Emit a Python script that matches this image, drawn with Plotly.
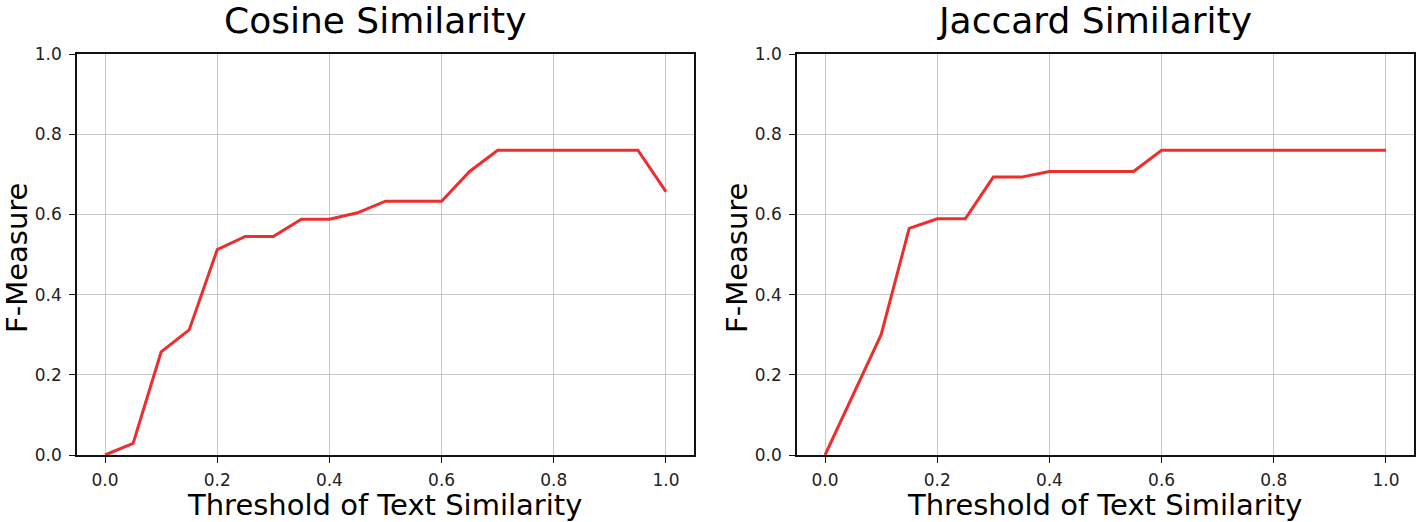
import plotly.graph_objects as go

thresholds = [0.0, 0.05, 0.10, 0.15, 0.20, 0.25, 0.30, 0.35, 0.40, 0.45, 0.50,
              0.55, 0.60, 0.65, 0.70, 0.75, 0.80, 0.85, 0.90, 0.95, 1.0]
cosine_f = [0.0, 0.029, 0.257, 0.312, 0.512, 0.545, 0.545, 0.588, 0.588, 0.604, 0.633,
            0.633, 0.633, 0.707, 0.760, 0.760, 0.760, 0.760, 0.760, 0.760, 0.657]
jaccard_f = [0.0, 0.148, 0.300, 0.565, 0.589, 0.589, 0.693, 0.693, 0.707, 0.707, 0.707,
             0.707, 0.760, 0.760, 0.760, 0.760, 0.760, 0.760, 0.760, 0.760, 0.760]
titles = ["Cosine Similarity", "Jaccard Similarity"]
x_label = "Threshold of Text Similarity"
y_label = "F-Measure"
x_ticks = [0.0, 0.2, 0.4, 0.6, 0.8, 1.0]
y_ticks = [0.0, 0.2, 0.4, 0.6, 0.8, 1.0]

FONT = "DejaVu Sans"
RED = "rgb(238,45,45)"

W, H = 1416, 522
ML, MR, MT, MB = 77, 2, 54, 67
PW = W - ML - MR
PH = H - MT - MB


def px_x(p):
    return (p - ML) / PW


def px_y(p):
    return (H - MB - p) / PH


dom1 = [px_x(77), px_x(694)]
dom2 = [px_x(797), px_x(1414)]

fig = go.Figure()
fig.add_trace(go.Scatter(x=thresholds, y=cosine_f, mode="lines",
                         line=dict(color=RED, width=3), xaxis="x", yaxis="y",
                         showlegend=False))
fig.add_trace(go.Scatter(x=thresholds, y=jaccard_f, mode="lines",
                         line=dict(color=RED, width=3), xaxis="x2", yaxis="y2",
                         showlegend=False))

axis_common = dict(
    showline=True, linecolor="#111111", linewidth=1.5, mirror=True,
    showgrid=True, gridcolor="#c8c8c8", gridwidth=1.2,
    ticks="outside", ticklen=6, tickwidth=1.2, tickcolor="#111111",
    zeroline=False, automargin=False,
    tickfont=dict(family=FONT, size=17, color="#222222"),
)

xa = dict(axis_common, range=[-0.05, 1.05], tickvals=x_ticks,
          ticktext=[f"{v:.1f}" for v in x_ticks], ticklabelstandoff=3)
ya = dict(axis_common, range=[0, 1.0], tickvals=y_ticks,
          ticktext=[f"{v:.1f}" for v in y_ticks], ticklabelstandoff=4)

annotations = []
for title, cx in zip(titles, [375, 1094]):
    annotations.append(dict(text=title, x=px_x(cx), y=px_y(21), xref="paper", yref="paper",
                            xanchor="center", yanchor="middle", showarrow=False,
                            font=dict(family=FONT, size=36, color="black")))
for cx in [384, 1104]:
    annotations.append(dict(text=x_label, x=px_x(cx), y=px_y(505), xref="paper", yref="paper",
                            xanchor="center", yanchor="middle", showarrow=False,
                            font=dict(family=FONT, size=29, color="black")))
for cx in [17, 737]:
    annotations.append(dict(text=y_label, x=px_x(cx), y=px_y(258), xref="paper", yref="paper",
                            xanchor="center", yanchor="middle", showarrow=False, textangle=-90,
                            font=dict(family=FONT, size=29, color="black")))

fig.update_layout(
    width=W, height=H,
    margin=dict(l=ML, r=MR, t=MT, b=MB, autoexpand=False),
    plot_bgcolor="white", paper_bgcolor="white",
    xaxis=dict(xa, domain=dom1, anchor="y"),
    yaxis=dict(ya, anchor="x"),
    xaxis2=dict(xa, domain=dom2, anchor="y2"),
    yaxis2=dict(ya, anchor="x2"),
    annotations=annotations,
)

fig.write_html("out.html", config={"displayModeBar": False},
               post_script="document.body.style.margin='0';document.body.style.overflow='hidden';")
